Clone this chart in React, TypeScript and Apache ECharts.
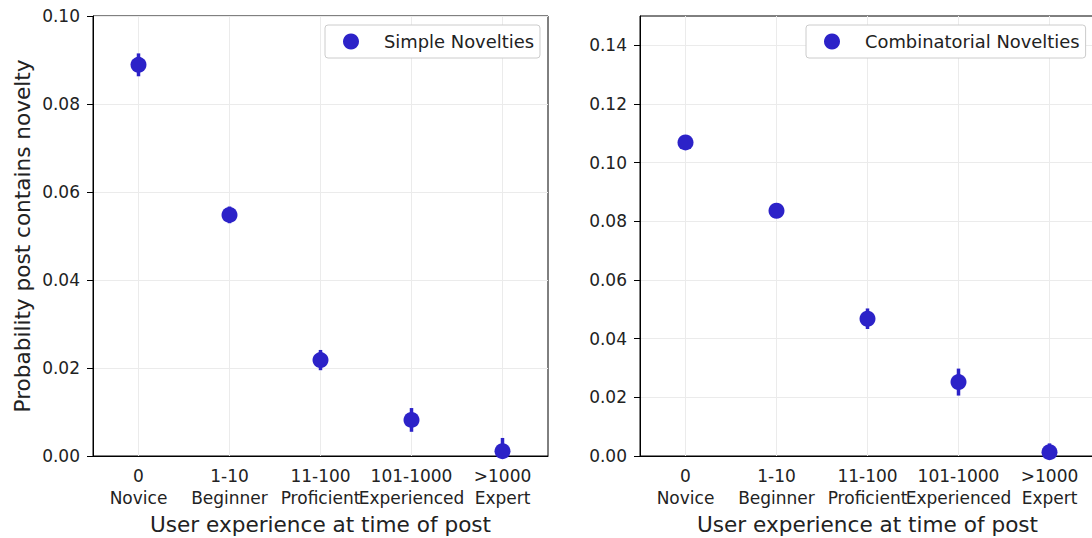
import React, { useEffect, useRef } from "react";
import * as echarts from "echarts";

const categories = ["0\nNovice", "1-10\nBeginner", "11-100\nProficient", "101-1000\nExperienced", ">1000\nExpert"];
const simpleValues = [0.0889, 0.0548, 0.0218, 0.0082, 0.0011];
const simpleErrors = [0.0026, 0.0019, 0.0023, 0.0027, 0.003];
const combValues = [0.1069, 0.0836, 0.0468, 0.0252, 0.0013];
const combErrors = [0.0012, 0.0012, 0.0035, 0.0046, 0.003];
const simpleTicks = [0, 0.02, 0.04, 0.06, 0.08, 0.1];
const combTicks = [0, 0.02, 0.04, 0.06, 0.08, 0.1, 0.12, 0.14];

const FONT = "DejaVu Sans";
const TEXT = "#222222";
const DOT = "#2c22c8";

function errData(vals: number[], errs: number[]) {
  return vals.map((v, i) => [i, v - errs[i], v + errs[i]]);
}

function renderErr(params: any, api: any) {
  const x = api.value(0);
  const lo = api.coord([x, api.value(1)]);
  const hi = api.coord([x, api.value(2)]);
  return {
    type: "line",
    shape: { x1: lo[0], y1: lo[1], x2: hi[0], y2: hi[1] },
    style: { stroke: DOT, lineWidth: 3.5 },
  };
}

export default function App() {
  const ref = useRef<HTMLDivElement>(null);
  useEffect(() => {
    if (!ref.current) return;
    const chart = echarts.init(ref.current, undefined, { renderer: "svg" });
    const xAxisBase = (gi: number) => ({
      type: "category",
      gridIndex: gi,
      data: categories,
      boundaryGap: true,
      name: "User experience at time of post",
      nameLocation: "middle",
      nameGap: 56,
      nameTextStyle: { fontFamily: FONT, fontSize: 21.6, color: TEXT },
      axisLine: { lineStyle: { color: "#000", width: 1 } },
      axisTick: { alignWithLabel: true, length: 6, lineStyle: { color: "#000" } },
      axisLabel: { fontFamily: FONT, fontSize: 17, color: TEXT, margin: 9, lineHeight: 22, interval: 0 },
      splitLine: { show: true, alignWithLabel: true, lineStyle: { color: "#ebebeb", width: 1 } },
    });
    const yAxisBase = (gi: number, max: number, ticks: number[]) => ({
      type: "value",
      gridIndex: gi,
      min: 0,
      max,
      interval: 0.02,
      axisLine: { show: true, lineStyle: { color: "#000", width: 1 } },
      axisTick: { show: true, length: 6, lineStyle: { color: "#000" }, customValues: ticks },
      axisLabel: {
        fontFamily: FONT,
        fontSize: 17,
        color: TEXT,
        margin: 13,
        customValues: ticks,
        formatter: (v: number) => v.toFixed(2),
      },
      splitLine: { show: true, lineStyle: { color: "#ebebeb", width: 1 } },
    });
    const legendBase = (left: number, name: string, padLeft: number, gap: number) => ({
      left,
      top: 25,
      data: [{ name, icon: "circle" }],
      itemWidth: 16,
      itemHeight: 16,
      padding: [6, 6, 6, padLeft],
      borderColor: "#cccccc",
      borderWidth: 1,
      borderRadius: 3,
      backgroundColor: "#fff",
      formatter: (n: string) => "{pad| }" + n,
      textStyle: {
        fontFamily: FONT,
        fontSize: 17.9,
        color: TEXT,
        lineHeight: 21,
        rich: { pad: { width: gap, fontSize: 17.9 } },
      },
      selectedMode: false,
    });
    chart.setOption({
      animation: false,
      textStyle: { fontFamily: FONT },
      grid: [
        { left: 93, top: 16, width: 455, height: 440, outerBoundsMode: "none", containLabel: false, show: true, borderColor: "#000", borderWidth: 1, backgroundColor: "transparent" },
        { left: 640, top: 16, width: 455, height: 440, outerBoundsMode: "none", containLabel: false, show: true, borderColor: "#000", borderWidth: 1, backgroundColor: "transparent" },
      ],
      legend: [legendBase(325, "Simple Novelties", 18, 20), legendBase(806, "Combinatorial Novelties", 18, 20)],
      xAxis: [xAxisBase(0), xAxisBase(1)],
      yAxis: [
        {
          ...yAxisBase(0, 0.1, simpleTicks),
          name: "Probability post contains novelty",
          nameLocation: "middle",
          nameGap: 60,
          nameTextStyle: { fontFamily: FONT, fontSize: 21.6, color: TEXT },
        },
        yAxisBase(1, 0.15, combTicks),
      ],
      series: [
        {
          type: "custom",
          xAxisIndex: 0,
          yAxisIndex: 0,
          renderItem: renderErr,
          data: errData(simpleValues, simpleErrors),
          encode: { x: 0, y: [1, 2] },
          clip: true,
          z: 2,
          silent: true,
        },
        {
          type: "scatter",
          name: "Simple Novelties",
          xAxisIndex: 0,
          yAxisIndex: 0,
          data: simpleValues,
          symbol: "circle",
          symbolSize: 16,
          itemStyle: { color: DOT, opacity: 1 },
          clip: true,
          z: 3,
        },
        {
          type: "custom",
          xAxisIndex: 1,
          yAxisIndex: 1,
          renderItem: renderErr,
          data: errData(combValues, combErrors),
          encode: { x: 0, y: [1, 2] },
          clip: true,
          z: 2,
          silent: true,
        },
        {
          type: "scatter",
          name: "Combinatorial Novelties",
          xAxisIndex: 1,
          yAxisIndex: 1,
          data: combValues,
          symbol: "circle",
          symbolSize: 16,
          itemStyle: { color: DOT, opacity: 1 },
          clip: true,
          z: 3,
        },
      ],
    });
    return () => chart.dispose();
  }, []);
  return (
    <div
      ref={ref}
      style={{ position: "absolute", left: 0, top: 0, width: 1092, height: 538, background: "#fff" }}
    />
  );
}
